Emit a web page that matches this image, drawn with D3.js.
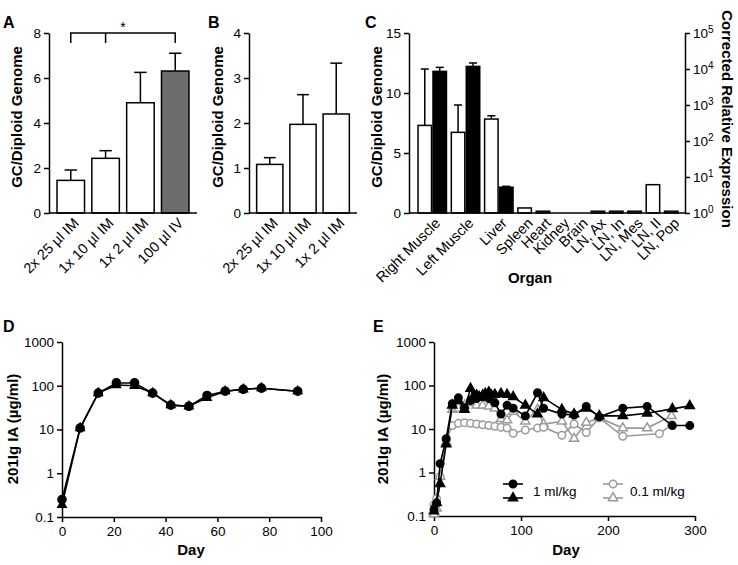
<!DOCTYPE html>
<html>
<head>
<meta charset="utf-8">
<script src="https://cdn.jsdelivr.net/npm/d3@7"></script>
<style>
body { margin: 0; background: #fff; }
svg { font-family: "Liberation Sans", Arial, sans-serif; }
</style>
</head>
<body>
<div id="fig"></div>
<script>
// ---- panel A ----
const aGroups = ["2x 25 µl IM", "1x 10 µl IM", "1x 2 µl IM", "100 µl IV"];
const aMeans = [1.45, 2.43, 4.9, 6.31];
const aErrors = [0.46, 0.34, 1.35, 0.79];
const aTicks = [0, 2, 4, 6, 8];

// ---- panel B ----
const bGroups = ["2x 25 µl IM", "1x 10 µl IM", "1x 2 µl IM"];
const bMeans = [1.08, 1.97, 2.2];
const bErrors = [0.15, 0.66, 1.13];
const bTicks = [0, 1, 2, 3, 4];

// ---- panel C ----
const cOrgans = ["Right Muscle", "Left Muscle", "Liver", "Spleen", "Heart", "Kidney", "Brain",
                 "LN, Ax", "LN, In", "LN, Mes", "LN, II", "LN, Pop"];
const cGenome = [7.3, 6.72, 7.83, 0.42, 0.15, 0, 0, 0.15, 0.15, 0.15, 2.36, 0.15];
const cGenomeErr = [4.7, 2.28, 0.27, 0, 0, 0, 0, 0, 0, 0, 0, 0];
const cExpression = [8600, 11800, 5.2, null, null, null, null, null, null, null, null, null];
const cExpressionErr = [2500, 2900, 0.3, null, null, null, null, null, null, null, null, null];
const cTicks = [0, 5, 10, 15];
const cLogTicks = [1, 10, 100, 1000, 10000, 100000];

// ---- panel D ----
const dDays = [0, 7, 14, 21, 28, 35, 42, 49, 56, 63, 70, 77, 91];
const dCircles = [0.25, 10.8, 68, 116, 116, 68, 36, 34, 60, 75, 83, 88, 75];
const dTriangles = [0.19, 10.8, 68, 104, 100, 68, 36, 34, 53, 75, 83, 88, 75];
const dXTicks = [0, 20, 40, 60, 80, 100];
const logTicks = [0.1, 1, 10, 100, 1000];

// ---- panel E ----
const eHighCircleDays = [0, 3, 7, 14, 21, 28, 35, 42, 49, 56, 63, 70, 77, 84, 91, 105, 119, 126, 147, 161, 175, 190, 217, 245, 274, 294];
const eHighCircle = [0.14, 0.2, 1.6, 6, 38, 52, 30, 45, 50, 55, 50, 40, 22, 35, 30, 20, 68, 30, 22, 21, 33, 19, 30, 33, 12, 12];
const eHighTriDays = [0, 3, 7, 14, 21, 28, 35, 42, 45, 49, 52, 56, 59, 63, 66, 70, 77, 84, 91, 105, 119, 126, 147, 161, 175, 190, 217, 245, 274, 294];
const eHighTri = [0.13, 0.2, 0.55, 4.5, 35, 45, 28, 85, 55, 60, 55, 60, 65, 70, 60, 62, 65, 62, 55, 35, 22, 52, 28, 22, 30, 20, 20, 23, 29, 34];
const eLowCircleDays = [0, 3, 7, 14, 21, 28, 35, 42, 49, 56, 63, 70, 77, 84, 91, 105, 119, 126, 147, 161, 175, 190, 217, 259, 273];
const eLowCircle = [0.18, 0.25, 0.8, 5.5, 12, 13.5, 14, 13.5, 13, 12.5, 12, 11.5, 11, 10.5, 8, 9.5, 10.5, 11, 7.2, 13, 8.3, 18, 6.8, 7.8, 12.5];
const eLowTriDays = [0, 3, 7, 14, 21, 28, 35, 42, 49, 56, 63, 70, 77, 84, 91, 105, 119, 126, 147, 161, 175, 190, 217, 245, 273];
const eLowTri = [0.11, 0.15, 0.8, 5, 28, 30, 35, 40, 35, 35, 33, 30, 17, 16, 25, 15, 28, 13, 15, 6, 14, 18, 10.5, 10.5, 20];
const eXTicks = [0, 100, 200, 300];

const svg = d3.select("#fig").append("svg")
    .attr("width", 738)
    .attr("height", 565);

const tickFont = "13.5px";
const catFont = "14.5px";
const titleFont = "15px";

function styleAxis(g) {
    g.selectAll("path, line").attr("stroke", "#000").attr("stroke-width", 1.5);
    g.selectAll("text").attr("font-size", tickFont).attr("fill", "#000");
}

function panelLetter(txt, x, y) {
    svg.append("text").attr("x", x).attr("y", y)
        .attr("font-size", "16px").attr("font-weight", "bold").text(txt);
}

function yTitle(txt, x, y, rot) {
    svg.append("text")
        .attr("transform", "translate(" + x + "," + y + ") rotate(" + (rot || -90) + ")")
        .attr("text-anchor", "middle")
        .attr("font-size", titleFont)
        .attr("font-weight", "bold")
        .text(txt);
}

// simple bar panel (A and B)
function barPanel(groups, means, errors, ticks, left, right, top, bottom, fills) {
    const x = d3.scaleBand().domain(groups).range([left, right]).paddingInner(0.21).paddingOuter(0.23);
    const y = d3.scaleLinear().domain([0, ticks[ticks.length - 1]]).range([bottom, top]);

    const g = svg.append("g");
    g.selectAll("rect").data(groups).join("rect")
        .attr("x", d => x(d))
        .attr("y", (d, i) => y(means[i]))
        .attr("width", x.bandwidth())
        .attr("height", (d, i) => bottom - y(means[i]))
        .attr("fill", (d, i) => fills[i])
        .attr("stroke", "#000").attr("stroke-width", 1.5);

    const cap = x.bandwidth() * 0.45;
    groups.forEach((d, i) => {
        const cx = x(d) + x.bandwidth() / 2;
        g.append("line").attr("x1", cx).attr("x2", cx)
            .attr("y1", y(means[i])).attr("y2", y(means[i] + errors[i]))
            .attr("stroke", "#000").attr("stroke-width", 1.5);
        g.append("line").attr("x1", cx - cap / 2).attr("x2", cx + cap / 2)
            .attr("y1", y(means[i] + errors[i])).attr("y2", y(means[i] + errors[i]))
            .attr("stroke", "#000").attr("stroke-width", 1.5);
    });

    svg.append("g").attr("transform", "translate(" + left + ",0)")
        .call(d3.axisLeft(y).tickValues(ticks).tickFormat(d3.format("d")).tickSize(5).tickSizeOuter(0).tickPadding(3))
        .call(styleAxis);
    svg.append("line").attr("x1", left).attr("x2", right).attr("y1", bottom).attr("y2", bottom)
        .attr("stroke", "#000").attr("stroke-width", 1.5);

    svg.append("g").selectAll("text").data(groups).join("text")
        .attr("transform", d => "translate(" + (x(d) + x.bandwidth() / 2 + 9) + "," + (bottom + 11) + ") rotate(-45)")
        .attr("text-anchor", "end")
        .attr("font-size", catFont)
        .text(d => d);
    return { x, y };
}

// ---- A ----
panelLetter("A", 3, 28);
const pa = barPanel(aGroups, aMeans, aErrors, aTicks, 49, 197, 33, 213, ["#fff", "#fff", "#fff", "#6d6d6d"]);
yTitle("GC/Diploid Genome", 22, 117);
{
    const c = i => pa.x(aGroups[i]) + pa.x.bandwidth() / 2;
    const yb = pa.y(8);
    const path = d3.path();
    path.moveTo(c(0), yb + 10); path.lineTo(c(0), yb); path.lineTo(c(3), yb); path.lineTo(c(3), yb + 10);
    path.moveTo(c(1), yb); path.lineTo(c(1), yb + 10);
    svg.append("path").attr("d", path.toString()).attr("fill", "none")
        .attr("stroke", "#000").attr("stroke-width", 1.5);
    svg.append("text").attr("x", (c(0) + c(3)) / 2).attr("y", yb - 1)
        .attr("text-anchor", "middle").attr("font-size", "14px").text("*");
}

// ---- B ----
panelLetter("B", 208, 28);
barPanel(bGroups, bMeans, bErrors, bTicks, 249, 357, 33, 213, ["#fff", "#fff", "#fff"]);
yTitle("GC/Diploid Genome", 223, 117);

// ---- C ----
panelLetter("C", 365, 28);
{
    const left = 409, right = 685, top = 33, bottom = 213;
    const barU = 1, innerU = 0.11, gapU = 0.36, padL = 0.67, padR = 0.52;
    let cursor = 0;
    const layout = cOrgans.map((o, i) => {
        const n = cExpression[i] == null ? 1 : 2;
        const start = cursor;
        const w = n * barU + (n - 1) * innerU;
        cursor += w + gapU;
        return { organ: o, start, w, gc: cGenome[i], gcErr: cGenomeErr[i], ex: cExpression[i], exErr: cExpressionErr[i] };
    });
    const total = cursor - gapU;
    const x = d3.scaleLinear().domain([-padL, total + padR]).range([left, right]);
    const y = d3.scaleLinear().domain([0, 15]).range([bottom, top]);
    const yR = d3.scaleLog().domain([1, 100000]).range([bottom, top]);
    const bw = x(barU) - x(0);
    const cap = bw * 0.6;

    const g = svg.append("g");
    layout.forEach(d => {
        const x0 = x(d.start);
        if (d.gc > 0) {
            g.append("rect").attr("x", x0).attr("y", y(d.gc)).attr("width", bw)
                .attr("height", bottom - y(d.gc))
                .attr("fill", "#fff").attr("stroke", "#000").attr("stroke-width", 1.5);
        }
        if (d.gcErr > 0) {
            const cx = x0 + bw / 2, ye = y(d.gc + d.gcErr);
            g.append("line").attr("x1", cx).attr("x2", cx).attr("y1", y(d.gc)).attr("y2", ye)
                .attr("stroke", "#000").attr("stroke-width", 1.5);
            g.append("line").attr("x1", cx - cap / 2).attr("x2", cx + cap / 2).attr("y1", ye).attr("y2", ye)
                .attr("stroke", "#000").attr("stroke-width", 1.5);
        }
        if (d.ex != null) {
            const x1 = x(d.start + barU + innerU);
            g.append("rect").attr("x", x1).attr("y", yR(d.ex)).attr("width", bw)
                .attr("height", bottom - yR(d.ex))
                .attr("fill", "#000").attr("stroke", "#000").attr("stroke-width", 1.5);
            const cx = x1 + bw / 2, ye = yR(d.ex + d.exErr);
            g.append("line").attr("x1", cx).attr("x2", cx).attr("y1", yR(d.ex)).attr("y2", ye)
                .attr("stroke", "#000").attr("stroke-width", 1.5);
            g.append("line").attr("x1", cx - cap / 2).attr("x2", cx + cap / 2).attr("y1", ye).attr("y2", ye)
                .attr("stroke", "#000").attr("stroke-width", 1.5);
        }
    });

    svg.append("g").attr("transform", "translate(" + left + ",0)")
        .call(d3.axisLeft(y).tickValues(cTicks).tickSize(5).tickSizeOuter(0).tickPadding(3))
        .call(styleAxis);
    const ra = svg.append("g").attr("transform", "translate(" + right + ",0)")
        .call(d3.axisRight(yR).tickValues(cLogTicks).tickSize(5).tickSizeOuter(0).tickFormat(""))
        .call(styleAxis);
    ra.selectAll(".tick").append("text")
        .attr("x", 8).attr("dy", "0.32em").attr("fill", "#000")
        .attr("font-size", tickFont).attr("text-anchor", "start")
        .each(function (d) {
            const t = d3.select(this);
            t.append("tspan").text("10");
            t.append("tspan").attr("dy", "-0.5em").attr("font-size", "10px").text(Math.round(Math.log10(d)));
        });
    svg.append("line").attr("x1", left).attr("x2", right).attr("y1", bottom).attr("y2", bottom)
        .attr("stroke", "#000").attr("stroke-width", 1.5);

    svg.append("g").selectAll("text").data(layout).join("text")
        .attr("transform", d => "translate(" + (x(d.start + d.w / 2) + 9) + "," + (bottom + 11) + ") rotate(-45)")
        .attr("text-anchor", "end")
        .attr("font-size", catFont)
        .text(d => d.organ);

    yTitle("GC/Diploid Genome", 382, 117);
    yTitle("Corrected Relative Expression", 722, 119, 90);
    svg.append("text").attr("x", 530).attr("y", 283).attr("text-anchor", "middle")
        .attr("font-size", titleFont).attr("font-weight", "bold").text("Organ");
}

// ---- time course panels ----
function timePanel(left, right, top, bottom, xMax, xTicks) {
    const x = d3.scaleLinear().domain([0, xMax]).range([left, right]);
    const y = d3.scaleLog().domain([0.1, 1000]).range([bottom, top]);
    svg.append("g").attr("transform", "translate(" + left + ",0)")
        .call(d3.axisLeft(y).tickValues(logTicks).tickFormat(d => String(d)).tickSize(5).tickSizeOuter(0).tickPadding(3))
        .call(styleAxis);
    svg.append("g").attr("transform", "translate(0," + bottom + ")")
        .call(d3.axisBottom(x).tickValues(xTicks).tickSize(5).tickSizeOuter(0).tickPadding(4))
        .call(styleAxis);
    return { x, y };
}

function drawSeries(p, days, values, opts) {
    const g = svg.append("g");
    const line = d3.line().x((d, i) => p.x(days[i])).y(d => p.y(d));
    g.append("path").datum(values).attr("d", line)
        .attr("fill", "none").attr("stroke", opts.color).attr("stroke-width", 1.6);
    const sym = d3.symbol().type(opts.shape).size(opts.size);
    g.selectAll("path.pt").data(values).join("path")
        .attr("class", "pt")
        .attr("transform", (d, i) => "translate(" + p.x(days[i]) + "," + p.y(d) + ")")
        .attr("d", sym)
        .attr("fill", opts.fill)
        .attr("stroke", opts.color).attr("stroke-width", 1.5);
}

// ---- D ----
panelLetter("D", 3, 332);
const pd = timePanel(62, 321, 342, 517, 100, dXTicks);
drawSeries(pd, dDays, dTriangles, { color: "#000", fill: "#000", shape: d3.symbolTriangle, size: 30 });
drawSeries(pd, dDays, dCircles, { color: "#000", fill: "#000", shape: d3.symbolCircle, size: 52 });
yTitle("201Ig IA (µg/ml)", 18, 429);
svg.append("text").attr("x", 191).attr("y", 555).attr("text-anchor", "middle")
    .attr("font-size", titleFont).attr("font-weight", "bold").text("Day");

// ---- E ----
panelLetter("E", 373, 332);
const pe = timePanel(434, 695, 342, 516, 300, eXTicks);
const grey = "#9a9a9a";
drawSeries(pe, eLowTriDays, eLowTri, { color: grey, fill: "#fff", shape: d3.symbolTriangle, size: 36 });
drawSeries(pe, eLowCircleDays, eLowCircle, { color: grey, fill: "#fff", shape: d3.symbolCircle, size: 44 });
drawSeries(pe, eHighTriDays, eHighTri, { color: "#000", fill: "#000", shape: d3.symbolTriangle, size: 36 });
drawSeries(pe, eHighCircleDays, eHighCircle, { color: "#000", fill: "#000", shape: d3.symbolCircle, size: 44 });
yTitle("201Ig IA (µg/ml)", 388, 429);
svg.append("text").attr("x", 566).attr("y", 555).attr("text-anchor", "middle")
    .attr("font-size", titleFont).attr("font-weight", "bold").text("Day");

// legend
const legendItems = [
    { label: "1 ml/kg", color: "#000", fill: "#000", x: 513, tx: 533 },
    { label: "0.1 ml/kg", color: grey, fill: "#fff", x: 613, tx: 630 }
];
const lg = svg.append("g");
legendItems.forEach(it => {
    [[d3.symbolCircle, 484, 44], [d3.symbolTriangle, 498, 36]].forEach(([shape, yy, size]) => {
        lg.append("line").attr("x1", it.x - 10).attr("x2", it.x + 10).attr("y1", yy).attr("y2", yy)
            .attr("stroke", it.color).attr("stroke-width", 1.6);
        lg.append("path").attr("transform", "translate(" + it.x + "," + yy + ")")
            .attr("d", d3.symbol().type(shape).size(size))
            .attr("fill", it.fill).attr("stroke", it.color).attr("stroke-width", 1.5);
    });
    lg.append("text").attr("x", it.tx).attr("y", 496).attr("font-size", tickFont).text(it.label);
});
</script>
</body>
</html>
